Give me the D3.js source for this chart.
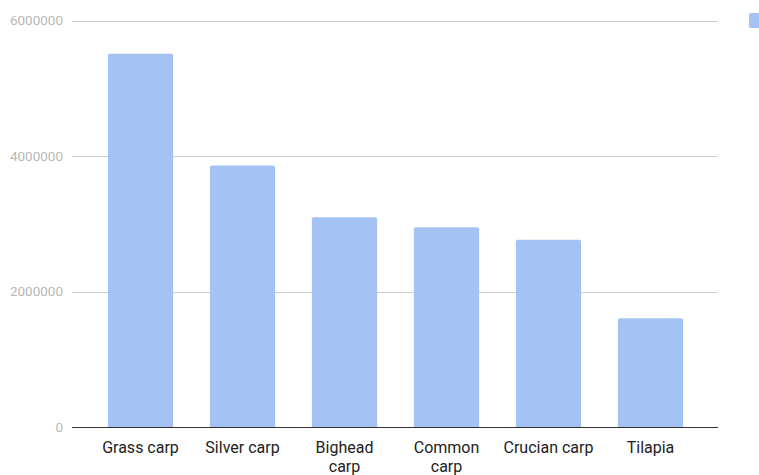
<!DOCTYPE html>
<html>
<head>
<meta charset="utf-8">
<script src="https://cdn.jsdelivr.net/npm/d3@7"></script>
<style>
  body { margin: 0; background: #fff; }
  svg { display: block; font-family: Roboto, Arial, sans-serif; }
</style>
</head>
<body>
<svg id="chart" width="759" height="475"></svg>
<script>
// data
const categories = ["Grass carp", "Silver carp", "Bighead carp", "Common carp", "Crucian carp", "Tilapia"];
const categoryLines = [["Grass carp"], ["Silver carp"], ["Bighead", "carp"], ["Common", "carp"], ["Crucian carp"], ["Tilapia"]];
const production = [5510000, 3860000, 3095000, 2950000, 2765000, 1605000];
const yTicks = [0, 2000000, 4000000, 6000000];

const width = 759;
const height = 475;
const margin = { top: 20.5, right: 41, bottom: 48, left: 72 };
const plotRight = width - margin.right;
const plotBottom = height - margin.bottom;

const svg = d3.select("#chart");

const y = d3.scaleLinear()
  .domain([0, 6000000])
  .range([plotBottom, margin.top]);

// bands sit inside the plot area, like google charts does
const x = d3.scaleBand()
  .domain(categories)
  .range([89.5, 701.5])
  .paddingInner(0.36)
  .paddingOuter(0.18);

// gridlines
svg.append("g")
  .selectAll("line")
  .data(yTicks.filter(d => d > 0))
  .enter()
  .append("line")
  .attr("x1", margin.left)
  .attr("x2", plotRight)
  .attr("y1", d => Math.round(y(d)) + 0.5)
  .attr("y2", d => Math.round(y(d)) + 0.5)
  .attr("stroke", "#cccccc")
  .attr("stroke-width", 1);

// y labels
svg.append("g")
  .selectAll("text")
  .data(yTicks)
  .enter()
  .append("text")
  .attr("x", margin.left - 9)
  .attr("y", d => y(d))
  .attr("dy", "0.35em")
  .attr("text-anchor", "end")
  .attr("fill", "#b7b7b7")
  .style("font-size", "13.5px")
  .text(d => d);

// bars
svg.append("g")
  .selectAll("path")
  .data(production)
  .enter()
  .append("path")
  .attr("fill", "#a4c2f4")
  .attr("d", (d, i) => {
    const x0 = x(categories[i]);
    const w = x.bandwidth();
    const top = y(d);
    const r = 2;
    return "M" + x0 + "," + plotBottom +
      "V" + (top + r) +
      "Q" + x0 + "," + top + " " + (x0 + r) + "," + top +
      "H" + (x0 + w - r) +
      "Q" + (x0 + w) + "," + top + " " + (x0 + w) + "," + (top + r) +
      "V" + plotBottom + "Z";
  });

// baseline
svg.append("line")
  .attr("x1", margin.left)
  .attr("x2", plotRight)
  .attr("y1", Math.round(y(0)) + 0.5)
  .attr("y2", Math.round(y(0)) + 0.5)
  .attr("stroke", "#333333")
  .attr("stroke-width", 1);

// category labels
const labels = svg.append("g")
  .selectAll("text")
  .data(categories)
  .enter()
  .append("text")
  .attr("x", d => x(d) + x.bandwidth() / 2)
  .attr("y", plotBottom + 26)
  .attr("text-anchor", "middle")
  .attr("fill", "#222222")
  .style("font-size", "16px");

labels.selectAll("tspan")
  .data((d, i) => categoryLines[i])
  .enter()
  .append("tspan")
  .attr("x", function () { return this.parentNode.getAttribute("x"); })
  .attr("dy", (d, j) => j === 0 ? 0 : 19)
  .text(d => d);

// legend swatch, cut off at the right edge
svg.append("rect")
  .attr("x", 749)
  .attr("y", 13)
  .attr("width", 12)
  .attr("height", 15)
  .attr("rx", 2)
  .attr("fill", "#a4c2f4");
</script>
</body>
</html>
